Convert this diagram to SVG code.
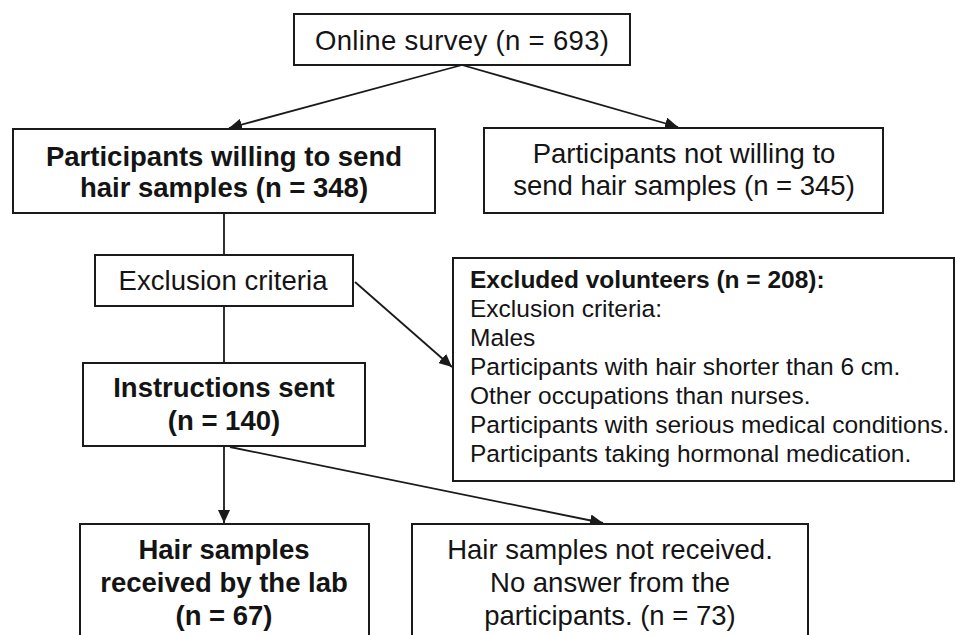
<svg xmlns="http://www.w3.org/2000/svg" width="957" height="635" viewBox="0 0 957 635">
<defs>
<style>
.box{fill:#fff;stroke:#1a1a1a;stroke-width:2}
.t{font-family:"Liberation Sans",Arial,sans-serif;font-size:27.5px;fill:#141414;text-anchor:middle}
.b{font-weight:bold}
.ex{font-family:"Liberation Sans",Arial,sans-serif;font-size:24.5px;fill:#141414}
.c{stroke:#1a1a1a;stroke-width:1.8;fill:none}
</style>
<marker id="ah" markerUnits="userSpaceOnUse" markerWidth="14" markerHeight="12" refX="13" refY="6" orient="auto">
<path d="M0,0 L13,6 L0,12 Z" fill="#1a1a1a"/>
</marker>
</defs>
<rect width="957" height="635" fill="#fff"/>
<g id="connectors">
<line class="c" x1="462" y1="65" x2="229" y2="128" marker-end="url(#ah)"/>
<line class="c" x1="462" y1="65" x2="678" y2="127" marker-end="url(#ah)"/>
<line class="c" x1="224" y1="213" x2="224" y2="255"/>
<line class="c" x1="224" y1="306" x2="224" y2="363"/>
<line class="c" x1="355" y1="282" x2="452" y2="367" marker-end="url(#ah)"/>
<line class="c" x1="224" y1="446" x2="224" y2="523" marker-end="url(#ah)"/>
<line class="c" x1="230" y1="447" x2="603" y2="523" marker-end="url(#ah)"/>
</g>
<g id="online-survey">
<rect class="box" x="294" y="14" width="336" height="51"/>
<text class="t" x="462" y="50" textLength="294">Online survey (n = 693)</text>
</g>
<g id="willing">
<rect class="box" x="13" y="129" width="422" height="84"/>
<text class="t b" x="224" y="166">Participants willing to send</text>
<text class="t b" x="224" y="197">hair samples (n = 348)</text>
</g>
<g id="not-willing">
<rect class="box" x="484" y="128" width="399" height="85"/>
<text class="t" x="684" y="163">Participants not willing to</text>
<text class="t" x="684" y="195">send hair samples (n = 345)</text>
</g>
<g id="exclusion-criteria">
<rect class="box" x="95" y="255" width="258" height="51"/>
<text class="t" x="223" y="290" textLength="209">Exclusion criteria</text>
</g>
<g id="excluded-volunteers">
<rect class="box" x="453" y="258" width="501" height="223"/>
<text class="ex b" x="470" y="288">Excluded volunteers (n = 208):</text>
<text class="ex" x="470" y="317">Exclusion criteria:</text>
<text class="ex" x="470" y="346">Males</text>
<text class="ex" x="470" y="375">Participants with hair shorter than 6 cm.</text>
<text class="ex" x="470" y="404">Other occupations than nurses.</text>
<text class="ex" x="470" y="433">Participants with serious medical conditions.</text>
<text class="ex" x="470" y="462">Participants taking hormonal medication.</text>
</g>
<g id="instructions-sent">
<rect class="box" x="83" y="363" width="282" height="83"/>
<text class="t b" x="224" y="397">Instructions sent</text>
<text class="t b" x="224" y="430">(n = 140)</text>
</g>
<g id="samples-received">
<rect class="box" x="80" y="524" width="289" height="130"/>
<text class="t b" x="224" y="559">Hair samples</text>
<text class="t b" x="224" y="592">received by the lab</text>
<text class="t b" x="224" y="625">(n = 67)</text>
</g>
<g id="samples-not-received">
<rect class="box" x="412" y="524" width="396" height="130"/>
<text class="t" x="610" y="559">Hair samples not received.</text>
<text class="t" x="610" y="592">No answer from the</text>
<text class="t" x="610" y="625">participants. (n = 73)</text>
</g>
</svg>
